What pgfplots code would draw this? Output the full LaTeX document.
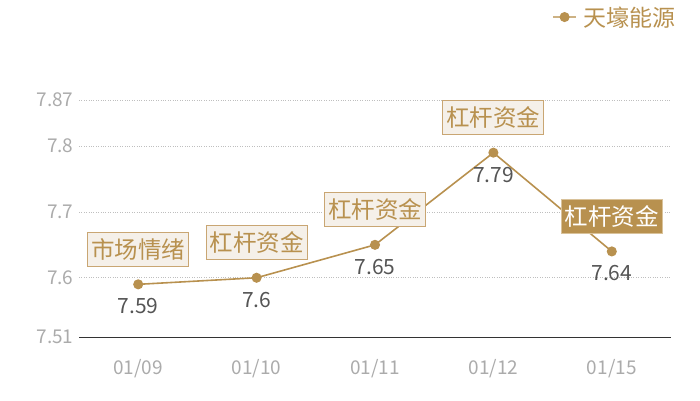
\documentclass[border=0pt]{standalone}
\usepackage{fontspec}
\setmainfont{Noto Sans CJK SC}
\usepackage{pgfplots}
\usepackage{pgfplotstable}
\pgfplotsset{compat=1.18}

\definecolor{tan}{HTML}{B8914F}
\definecolor{boxfill}{HTML}{F5F0E9}
\definecolor{boxline}{HTML}{C9A673}
\definecolor{darkline}{HTML}{D9C29A}
\definecolor{ticklab}{HTML}{ABABAB}
\definecolor{vallab}{HTML}{555555}

\pgfplotstableread{
x y
0 7.59
1 7.60
2 7.65
3 7.79
4 7.64
}\prices

\pgfplotstableread{
x y label
0 7.59 市场情绪
1 7.60 杠杆资金
2 7.65 杠杆资金
3 7.79 杠杆资金
}\notes

\pgfplotstableread{
x y label
4 7.64 杠杆资金
}\lastnote

\begin{document}
\begin{tikzpicture}
\path[use as bounding box] (0,0) rectangle (700pt,400pt);
\begin{axis}[
    at={(79pt,63pt)}, anchor=south west,
    scale only axis,
    width=592pt, height=237pt,
    xmin=-0.5, xmax=4.5,
    ymin=7.51, ymax=7.87,
    xtick={0,1,2,3,4},
    xticklabels={01/09,01/10,01/11,01/12,01/15},
    ytick={7.51,7.6,7.7,7.8,7.87},
    /pgf/number format/assume math mode=true,
    yticklabel style={font=\fontsize{19}{19}\selectfont, text=ticklab, xshift=-2pt},
    xticklabel style={font=\fontsize{19}{19}\selectfont, text=ticklab, yshift=-19pt},
    major tick length=0pt,
    ymajorgrids,
    grid style={dotted, draw=black!25, line width=0.8pt},
    axis x line*=bottom, axis y line*=left,
    y axis line style={draw=none},
    x axis line style={draw=black!80, line width=0.8pt, -},
    clip=false,
    legend style={at={(axis description cs:1.012,1.35)}, anchor=east,
        draw=none, fill=none, font=\fontsize{23}{23}\selectfont, text=tan,
        inner sep=0pt},
    legend image code/.code={
        \draw[tan!70, line width=1.2pt] (0pt,0pt) -- (23pt,0pt);
        \fill[tan] (11.5pt,0pt) circle (4.2pt);
        \path (28pt,0pt);
    },
    legend cell align=left,
]
\addplot[tan, line width=1.6pt, mark=*, mark size=4.2pt,
    nodes near coords, point meta=explicit,
    every node near coord/.style={anchor=center, yshift=-22pt,
        font=\fontsize{21}{21}\selectfont, text=vallab},
    nodes near coords={\pgfmathprintnumber{\pgfplotspointmeta}}]
    table[x=x, y=y, meta=y] {\prices};
\addlegendentry{天壕能源}

\addplot[draw=none, mark=none, forget plot,
    nodes near coords, point meta=explicit symbolic,
    every node near coord/.style={anchor=center, yshift=35pt,
        font=\fontsize{23.5}{23.5}\selectfont, text=tan, fill=boxfill,
        draw=boxline, line width=0.9pt, inner xsep=3.5pt, inner ysep=6pt}]
    table[x=x, y=y, meta=label] {\notes};

\addplot[draw=none, mark=none, forget plot,
    nodes near coords, point meta=explicit symbolic,
    every node near coord/.style={anchor=center, yshift=35pt,
        font=\fontsize{23.5}{23.5}\selectfont, text=white, fill=tan,
        draw=darkline, line width=0.9pt, inner xsep=3.5pt, inner ysep=6pt}]
    table[x=x, y=y, meta=label] {\lastnote};
\end{axis}
\end{tikzpicture}
\end{document}
